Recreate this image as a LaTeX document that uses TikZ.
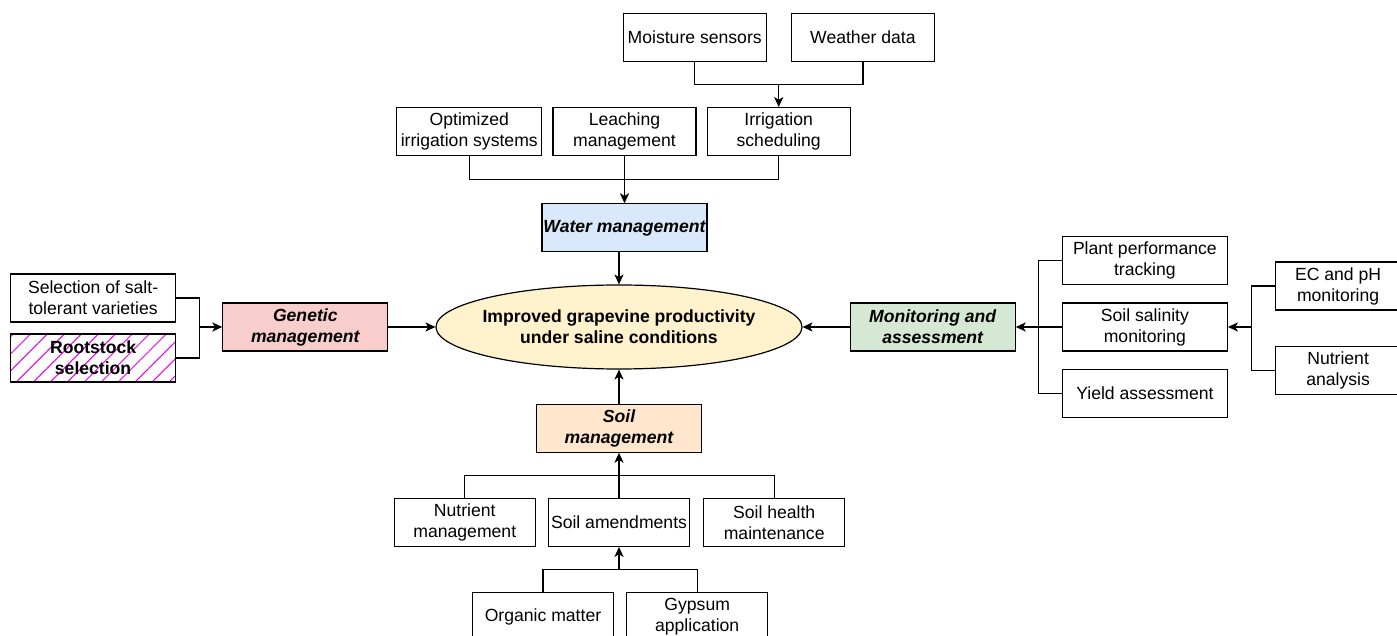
\documentclass[tikz,border=0pt]{standalone}
\usepackage{fontspec}
\setmainfont{Liberation Sans}
\usetikzlibrary{arrows.meta,positioning,calc,shapes.geometric,patterns.meta}

\definecolor{goalc}{HTML}{FFF2CC}
\definecolor{waterc}{HTML}{DAE8FC}
\definecolor{genc}{HTML}{F8CECC}
\definecolor{monc}{HTML}{D5E8D4}
\definecolor{soilc}{HTML}{FFE6CC}
\definecolor{hatchc}{HTML}{EE00EE}

\begin{document}
\begin{tikzpicture}[
    node distance=23.5pt,
    every node/.style={font=\fontsize{8.8pt}{10.5pt}\selectfont,align=center},
    box/.style={draw,line width=0.6pt,minimum width=71.5pt,minimum height=24pt,inner sep=0.8pt},
    wide/.style={box,minimum width=82.5pt},
    topic/.style={wide,font=\fontsize{8.8pt}{10.5pt}\selectfont\bfseries\itshape},
    line/.style={line width=0.6pt},
    arrow/.style={-{Stealth[length=5pt,width=4.6pt,inset=1.4pt]},line width=0.6pt}
]
\useasboundingbox (-309.5pt,163.5pt) rectangle (389pt,-154.5pt);

% centre
\node[ellipse,draw,line width=0.6pt,fill=goalc,minimum width=183pt,minimum height=42pt,inner xsep=-4pt,inner ysep=0pt,
      font=\fontsize{8.8pt}{10.5pt}\selectfont\bfseries] (goal) {Improved grapevine productivity\\under saline conditions};

% water
\node[topic,fill=waterc,inner sep=0.3pt,above=16pt of goal,xshift=2.75pt] (w) {Water management};
\node[box,above=23.5pt of w] (leach) {Leaching\\management};
\node[box,minimum width=72.5pt,left=5pt of leach] (opt) {Optimized\\irrigation systems};
\node[box,right=5pt of leach] (irr) {Irrigation\\scheduling};
\node[box,above=22.5pt of irr,xshift=-42pt] (moist) {Moisture sensors};
\node[box,right=12pt of moist] (wdata) {Weather data};

% genetic
\node[topic,fill=genc,left=23.5pt of goal] (gen) {Genetic\\management};
\node[wide,left=23pt of gen,yshift=14.5pt] (sel) {Selection of salt-\\tolerant varieties};
\node[wide,below=5.5pt of sel,pattern={Lines[angle=45,distance=6pt,line width=0.5pt]},pattern color=hatchc,
      font=\fontsize{8.8pt}{10.5pt}\selectfont\bfseries] (root) {Rootstock\\selection};

% monitoring
\node[topic,fill=monc,right=23.5pt of goal] (mon) {Monitoring and\\assessment};
\node[wide,right=23pt of mon] (sal) {Soil salinity\\monitoring};
\node[wide,above=8.5pt of sal] (plant) {Plant performance\\tracking};
\node[wide,below=8.5pt of sal] (yield) {Yield assessment};
\node[box,minimum width=62.5pt,right=23.5pt of sal,yshift=20.5pt] (ec) {EC and pH\\monitoring};
\node[box,minimum width=62.5pt,below=17.5pt of ec] (nutan) {Nutrient\\analysis};

% soil
\node[topic,fill=soilc,below=17pt of goal] (soil) {Soil\\management};
\node[box,minimum width=70.5pt,below=22.5pt of soil] (amend) {Soil amendments};
\node[box,minimum width=70.5pt,left=6pt of amend] (nutm) {Nutrient\\management};
\node[box,minimum width=70.5pt,right=6.5pt of amend] (health) {Soil health\\maintenance};
\node[box,minimum width=70.5pt,below=22.5pt of amend,xshift=-38pt] (org) {Organic matter};
\node[box,minimum width=70.5pt,right=6pt of org] (gyp) {Gypsum\\application};

% bus points
\coordinate (ibus) at ($(irr.north)!0.5!(irr.north |- moist.south)$);
\coordinate (wbus) at ($(leach.south)!0.5!(w.north)$);
\coordinate (gbus) at ($(sel.east |- gen.west)!0.5!(gen.west)$);
\coordinate (mbus) at ($(mon.east)!0.5!(sal.west)$);
\coordinate (sbus) at ($(sal.east)!0.5!(ec.west |- sal.east)$);
\coordinate (abus) at ($(soil.south)!0.5!(amend.north)$);
\coordinate (obus) at ($(amend.south)!0.5!(amend.south |- org.north)$);

% connectors
\draw[line] (moist.south) |- (ibus) -| (wdata.south);
\draw[arrow] (ibus) -- (irr.north);
\draw[line] (opt.south) |- (wbus) -| (irr.south);
\draw[arrow] (leach.south) -- (w.north);
\draw[arrow] (w.south -| goal.north) -- (goal.north);

\draw[line] (sel.east) -| (gbus) |- (root.east);
\draw[arrow] (gbus) -- (gen.west);
\draw[arrow] (gen.east) -- (goal.west);

\draw[line] (plant.west) -| (mbus) |- (yield.west);
\draw[arrow] (sal.west) -- (mon.east);
\draw[line] (ec.west) -| (sbus) |- (nutan.west);
\draw[arrow] (sbus) -- (sal.east);
\draw[arrow] (mon.west) -- (goal.east);

\draw[line] (nutm.north) |- (abus) -| (health.north);
\draw[arrow] (amend.north) -- (soil.south);
\draw[line] (org.north) |- (obus) -| (gyp.north);
\draw[arrow] (obus) -- (amend.south);
\draw[arrow] (soil.north) -- (goal.south);
\end{tikzpicture}
\end{document}
